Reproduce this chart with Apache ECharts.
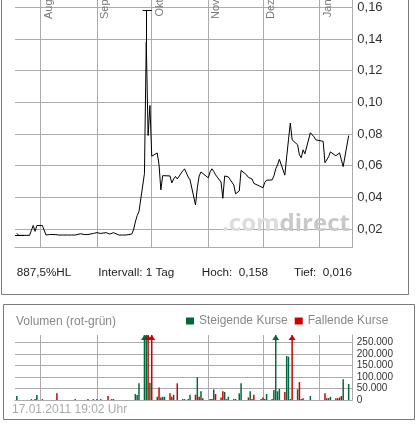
<!DOCTYPE html>
<html>
<head>
<meta charset="utf-8">
<script src="https://cdn.jsdelivr.net/npm/echarts@6/dist/echarts.min.js"></script>
<style>
html,body{margin:0;padding:0;background:#fff;}
#c{width:417px;height:425px;}
</style>
</head>
<body>
<div id="c"></div>
<script>
// ---------- data ----------
const axisStart = '2010-07-18';
const axisEnd = '2011-01-19';
const monthNames = ['Jan','Feb','Mär','Apr','Mai','Jun','Jul','Aug','Sep','Okt','Nov','Dez'];

const priceDates = [
 '2010-07-19','2010-07-20','2010-07-21','2010-07-22','2010-07-23','2010-07-26','2010-07-27','2010-07-28','2010-07-29','2010-07-30',
 '2010-08-02','2010-08-03','2010-08-04','2010-08-05','2010-08-06','2010-08-09','2010-08-10','2010-08-11','2010-08-12','2010-08-13',
 '2010-08-16','2010-08-17','2010-08-18','2010-08-19','2010-08-20','2010-08-23','2010-08-24','2010-08-25','2010-08-26','2010-08-27',
 '2010-08-30','2010-08-31',
 '2010-09-01','2010-09-02','2010-09-03','2010-09-06','2010-09-07','2010-09-08','2010-09-09','2010-09-10','2010-09-13','2010-09-14',
 '2010-09-15','2010-09-16','2010-09-17','2010-09-20','2010-09-21','2010-09-22','2010-09-23','2010-09-24','2010-09-27','2010-09-28',
 '2010-09-29','2010-09-30',
 '2010-10-01','2010-10-04','2010-10-05','2010-10-06','2010-10-07','2010-10-08','2010-10-11','2010-10-12','2010-10-13','2010-10-14',
 '2010-10-15','2010-10-18','2010-10-19','2010-10-20','2010-10-21','2010-10-22','2010-10-25','2010-10-26','2010-10-27','2010-10-28',
 '2010-10-29',
 '2010-11-01','2010-11-02','2010-11-03','2010-11-04','2010-11-05','2010-11-08','2010-11-09','2010-11-10','2010-11-11','2010-11-12',
 '2010-11-15','2010-11-16','2010-11-17','2010-11-18','2010-11-19','2010-11-22','2010-11-23','2010-11-24','2010-11-25','2010-11-26',
 '2010-11-29','2010-11-30',
 '2010-12-01','2010-12-02','2010-12-03','2010-12-06','2010-12-07','2010-12-08','2010-12-09','2010-12-10','2010-12-13','2010-12-14',
 '2010-12-15','2010-12-16','2010-12-17','2010-12-20','2010-12-21','2010-12-22','2010-12-23','2010-12-24','2010-12-27','2010-12-28',
 '2010-12-29','2010-12-30','2010-12-31',
 '2011-01-03','2011-01-04','2011-01-05','2011-01-06','2011-01-07','2011-01-10','2011-01-11','2011-01-12','2011-01-13','2011-01-14',
 '2011-01-17'
];
const priceValues = [
 0.0173,0.016,0.016,0.016,0.016,0.016,0.0192,0.0222,0.0185,0.0222,
 0.0222,0.0222,0.0162,0.0162,0.0165,0.0165,0.0168,0.0162,0.0162,0.0162,
 0.0162,0.0162,0.0162,0.0162,0.0162,0.017,0.0165,0.0165,0.0175,0.0165,
 0.0172,0.0172,
 0.0177,0.0172,0.0172,0.0177,0.0172,0.0168,0.0165,0.0177,0.0162,0.0162,
 0.0162,0.0162,0.0162,0.0168,0.0194,0.0244,0.0285,0.031,0.055,0.138,
 0.079,0.098,
 0.066,0.068,0.0605,0.0447,0.0537,0.0532,0.0535,0.0491,0.0516,0.0532,
 0.0516,0.0567,0.058,0.0554,0.0529,0.051,0.0352,0.046,0.0535,0.056,
 0.0548,
 0.0523,0.056,0.058,0.0564,0.0542,0.0497,0.0394,0.0535,0.0542,0.0529,
 0.0478,0.0422,0.0412,0.044,0.057,0.0542,0.0526,0.0521,0.0516,0.0488,
 0.0472,0.0475,
 0.046,0.0494,0.0508,0.051,0.0535,0.058,0.0605,0.064,0.054,0.0656,
 0.0763,0.0869,0.0763,0.0732,0.0668,0.065,0.070,0.0675,0.0808,0.0814,
 0.0782,0.0763,0.0757,
 0.0754,0.0618,0.0618,0.0656,0.0687,0.0662,0.065,0.0681,0.0637,0.0594,
 0.079
];
const highDate = '2010-09-28';
const highValue = 0.158;
const lowDate = '2010-07-20';
const lowValue = 0.016;

const priceTicks = [0.02,0.04,0.06,0.08,0.10,0.12,0.14,0.16];
const volTicks = [0,50000,100000,150000,200000,250000];

const upDates = ['2010-07-19','2010-07-27','2010-07-29','2010-07-30','2010-08-02','2010-08-20','2010-08-27','2010-09-01','2010-09-03','2010-09-09',
 '2010-09-10','2010-09-22','2010-09-23','2010-09-24','2010-09-27','2010-09-28','2010-09-30','2010-10-04','2010-10-07','2010-10-08',
 '2010-10-13','2010-10-18','2010-10-19','2010-10-21','2010-10-22','2010-10-26','2010-10-28','2010-11-04','2010-11-10','2010-11-12',
 '2010-11-18','2010-11-19','2010-11-24','2010-11-25','2010-11-30','2010-12-02','2010-12-03','2010-12-07','2010-12-08','2010-12-09',
 '2010-12-10','2010-12-14','2010-12-15','2010-12-20','2010-12-27','2011-01-06','2011-01-07','2011-01-11','2011-01-14','2011-01-17'];
const upVolumes = [17500,4000,4000,21800,4000,4000,4000,4000,4000,4000,
 4000,26000,22000,72700,300000,300000,75500,14000,14000,14000,
 23000,4000,4000,4000,23000,99000,38000,46500,35000,14000,
 29000,72700,38000,4000,4000,4000,26000,43600,300000,38000,
 49000,192000,189000,46500,17500,8000,14000,8000,90000,70000];

const downDates = ['2010-08-10','2010-08-30','2010-09-07','2010-09-29','2010-10-01','2010-10-05','2010-10-06','2010-10-11','2010-10-12','2010-10-15',
 '2010-10-25','2010-10-27','2010-10-29','2010-11-02','2010-11-03','2010-11-05','2010-11-08','2010-11-09','2010-11-11','2010-11-15',
 '2010-11-16','2010-11-23','2010-11-26','2010-12-01','2010-12-06','2010-12-13','2010-12-16','2010-12-17','2010-12-21','2010-12-22',
 '2010-12-23','2011-01-04','2011-01-05','2011-01-10','2011-01-12','2011-01-13'];
const downVolumes = [29000,4000,17500,300000,300000,55000,11000,29000,14000,72700,
 23000,14000,8000,4000,4000,26000,11000,38000,4000,4000,
 4000,11000,23000,11000,4000,35000,4000,300000,78500,4000,
 8000,29000,8000,8000,11000,17500];

// ---------- helpers ----------
function buildDays(a, b) {
  const p = s => Date.UTC(+s.slice(0,4), +s.slice(5,7)-1, +s.slice(8,10));
  const out = [];
  for (let t = p(a); t <= p(b); t += 86400000) out.push(new Date(t).toISOString().slice(0,10));
  return out;
}
const days = buildDays(axisStart, axisEnd);
const monthStarts = days.filter(d => d.slice(8) === '01');
const shiftDay = (d, n) => days[Math.max(0, Math.min(days.length-1, days.indexOf(d) + n))];
const isMonthStart = (i, v) => v.slice(8) === '01';

const FONT = '"Liberation Sans", Arial, sans-serif';
const gridColor = '#ababab';
const upColor = '#00693a';
const downColor = '#cc0000';

const priceMin = 0.008443, priceMax = 0.16461;
const volMax = 283600;

const closeOnHigh = priceValues[priceDates.indexOf(highDate)];
const pct = Math.round((highValue / lowValue - 1) * 1000) / 10;
const fmtDe = (v, n) => v.toFixed(n).replace('.', ',');

const cappedMarks = (dates, vals) => dates.filter((d, i) => vals[i] > volMax).map(d => ({ coord: [d, volMax] }));

const chart = echarts.init(document.getElementById('c'), null, { renderer: 'canvas', width: 417, height: 425, devicePixelRatio: 1 });

const baseGraphics = [
  { type: 'rect', silent: true, z: 0, shape: { x: 1.5, y: -5, width: 407, height: 299.5 },
    style: { fill: 'none', stroke: '#7a7a7a', lineWidth: 1 } },
  { type: 'rect', silent: true, z: 0, shape: { x: 3.5, y: 304.5, width: 411, height: 115 },
    style: { fill: 'none', stroke: '#7a7a7a', lineWidth: 1 } },
  { type: 'text', silent: true, z: 1, x: 222, y: 224,
    style: { text: '{a|.com}{b|direct}', verticalAlign: 'middle',
      fontSize: 24, fontWeight: 'bold', fontFamily: '"Open Sans", sans-serif',
      rich: { a: { fill: '#dcdcdc', fontSize: 24, fontWeight: 'bold', fontFamily: '"Open Sans", sans-serif' },
              b: { fill: '#c8c8c8', fontSize: 24, fontWeight: 'bold', fontFamily: '"Open Sans", sans-serif' } } } },
  { type: 'text', silent: true, x: 16.7, y: 272.7,
    style: { text: fmtDe(pct, 1) + '%HL', verticalAlign: 'middle', fill: '#222', fontSize: 11.7, fontFamily: FONT } },
  { type: 'text', silent: true, x: 98.3, y: 272.7,
    style: { text: 'Intervall: 1 Tag', verticalAlign: 'middle', fill: '#222', fontSize: 11.7, fontFamily: FONT } },
  { type: 'text', silent: true, x: 201.7, y: 272.7,
    style: { text: 'Hoch:  ' + fmtDe(highValue, 3), verticalAlign: 'middle', fill: '#222', fontSize: 11.7, fontFamily: FONT } },
  { type: 'text', silent: true, x: 294, y: 272.7,
    style: { text: 'Tief:  ' + fmtDe(lowValue, 3), verticalAlign: 'middle', fill: '#222', fontSize: 11.7, fontFamily: FONT } },
  { type: 'text', silent: true, x: 16, y: 321.7,
    style: { text: 'Volumen (rot-grün)', verticalAlign: 'middle', fill: '#888', fontSize: 12, fontFamily: FONT } },
  { type: 'text', silent: true, x: 12, y: 410,
    style: { text: '17.01.2011 19:02 Uhr', verticalAlign: 'middle', fill: '#aaa', fontSize: 12, fontFamily: FONT } }
];

const option = {
  animation: false,
  backgroundColor: '#fff',
  grid: [
    { left: 15, right: 64.7, top: 0, bottom: 177.7, containLabel: false, outerBoundsMode: 'none' },
    { left: 15, right: 64.7, top: 335, bottom: 25, containLabel: false, outerBoundsMode: 'none' }
  ],
  legend: {
    data: ['Steigende Kurse', 'Fallende Kurse'],
    left: 186, top: 315, padding: 0,
    itemWidth: 8, itemHeight: 7, itemGap: 7, icon: 'rect',
    selectedMode: false,
    textStyle: { color: '#888', fontSize: 12, fontFamily: FONT }
  },
  xAxis: [
    { gridIndex: 0, type: 'category', data: days, boundaryGap: false, position: 'bottom',
      axisLine: { show: true, lineStyle: { color: gridColor, width: 1 } },
      axisTick: { show: false }, axisLabel: { show: false },
      splitLine: { show: true, interval: isMonthStart, lineStyle: { color: gridColor, width: 1 } } },
    { gridIndex: 1, type: 'category', data: days, boundaryGap: false, position: 'bottom',
      axisLine: { show: true, lineStyle: { color: gridColor, width: 1 } },
      axisTick: { show: false }, axisLabel: { show: false },
      splitLine: { show: true, interval: isMonthStart, lineStyle: { color: gridColor, width: 1 } } }
  ],
  yAxis: [
    { gridIndex: 0, type: 'value', position: 'right', min: priceMin, max: priceMax,
      axisLine: { show: true, lineStyle: { color: gridColor, width: 1 } },
      axisTick: { show: false, customValues: priceTicks },
      axisLabel: { customValues: priceTicks, formatter: v => fmtDe(v, 2), margin: 5,
        color: '#333', fontSize: 13, fontFamily: FONT },
      splitLine: { show: true, lineStyle: { color: gridColor, width: 1 } } },
    { gridIndex: 1, type: 'value', position: 'right', min: 0, max: volMax,
      axisLine: { show: true, lineStyle: { color: gridColor, width: 1 } },
      axisTick: { show: false, customValues: volTicks },
      axisLabel: { customValues: volTicks, formatter: v => v === 0 ? '0' : (v / 1000) + '.000', margin: 4.5,
        color: '#333', fontSize: 10, fontFamily: FONT },
      splitLine: { show: true, lineStyle: { color: gridColor, width: 1 } } }
  ],
  series: [
    { type: 'line', name: 'Kurs', xAxisIndex: 0, yAxisIndex: 0, z: 3,
      data: priceDates.map((d, i) => [d, priceValues[i]]),
      symbol: 'none', showSymbol: false, silent: true,
      lineStyle: { color: '#000', width: 1 },
      markLine: { silent: true, symbol: ['none', 'none'], label: { show: false },
        lineStyle: { color: '#000', width: 1, type: 'solid' }, emphasis: { disabled: true },
        data: [
          [{ coord: [highDate, closeOnHigh] }, { coord: [highDate, highValue] }],
          [{ coord: [shiftDay(highDate, -2), highValue] }, { coord: [shiftDay(highDate, 3), highValue] }],
          [{ coord: [shiftDay(lowDate, -2), lowValue] }, { coord: [shiftDay(lowDate, 3), lowValue] }]
        ] } },
    { type: 'bar', name: 'Steigende Kurse', xAxisIndex: 1, yAxisIndex: 1, barWidth: 1.5, barGap: '-100%',
      itemStyle: { color: upColor }, silent: true,
      data: upDates.map((d, i) => [d, upVolumes[i]]),
      markPoint: { symbol: 'triangle', symbolSize: [7, 5], symbolOffset: [0, 2.5], silent: true,
        label: { show: false }, itemStyle: { color: upColor }, data: cappedMarks(upDates, upVolumes) } },
    { type: 'bar', name: 'Fallende Kurse', xAxisIndex: 1, yAxisIndex: 1, barWidth: 1.5, barGap: '-100%',
      itemStyle: { color: downColor }, silent: true,
      data: downDates.map((d, i) => [d, downVolumes[i]]),
      markPoint: { symbol: 'triangle', symbolSize: [7, 5], symbolOffset: [0, 2.5], silent: true,
        label: { show: false }, itemStyle: { color: downColor }, data: cappedMarks(downDates, downVolumes) } }
  ],
  graphic: baseGraphics
};
chart.setOption(option);

// month labels: positioned through the x axis scale, rotated to read upwards
const monthGraphics = monthStarts.map(d => {
  const px = chart.convertToPixel({ xAxisIndex: 0 }, d);
  return { type: 'text', silent: true, z: 5, x: px + 2.5, y: -0.5, rotation: Math.PI / 2,
    style: { text: monthNames[+d.slice(5,7) - 1], align: 'right', verticalAlign: 'top',
      fill: '#777', fontSize: 11, fontFamily: FONT } };
});
chart.setOption({ graphic: baseGraphics.concat(monthGraphics) });
</script>
</body>
</html>
